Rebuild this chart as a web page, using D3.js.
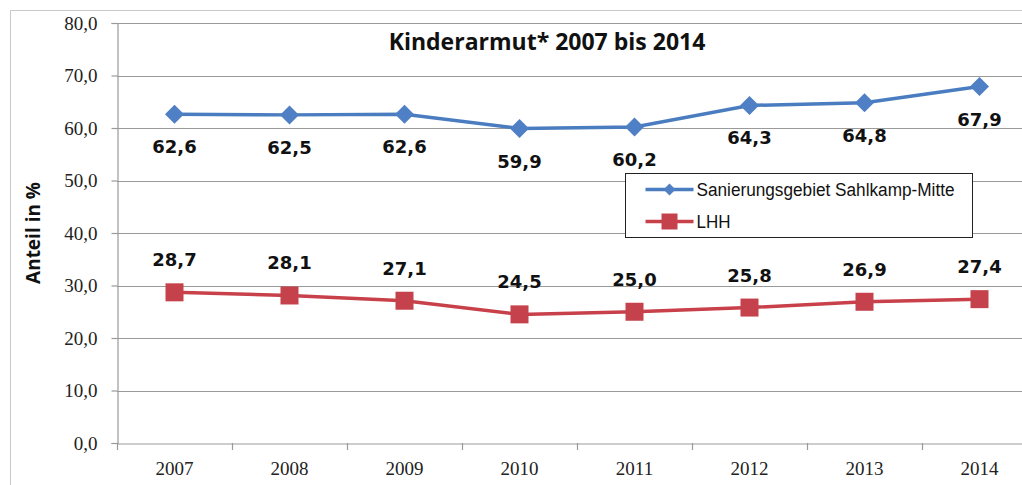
<!DOCTYPE html>
<html>
<head>
<meta charset="utf-8">
<script src="https://cdn.jsdelivr.net/npm/d3@7"></script>
<style>
  body { margin: 0; background: #fff; }
  svg { display: block; }
</style>
</head>
<body>
<script>
// data
const years = ["2007", "2008", "2009", "2010", "2011", "2012", "2013", "2014"];
const sahlkamp = [62.6, 62.5, 62.6, 59.9, 60.2, 64.3, 64.8, 67.9];
const lhh = [28.7, 28.1, 27.1, 24.5, 25.0, 25.8, 26.9, 27.4];
const yTicks = [0, 10, 20, 30, 40, 50, 60, 70, 80];
const seriesNames = ["Sanierungsgebiet Sahlkamp-Mitte", "LHH"];

const width = 1022, height = 485;
const margin = {top: 23, right: -15, bottom: 42, left: 117};

const svg = d3.select("body").append("svg")
    .attr("width", width)
    .attr("height", height);

// outer frame (cropped on the right/bottom in the original)
svg.append("path")
    .attr("d", `M10.5,${height} V10.5 H${width}`)
    .attr("fill", "none")
    .attr("stroke", "#c8c8c8");

const x = d3.scaleBand()
    .domain(years)
    .range([margin.left, width - margin.right]);

const y = d3.scaleLinear()
    .domain([0, 80])
    .range([height - margin.bottom, margin.top]);

const fmt = v => d3.format(".1f")(v).replace(".", ",");

// gridlines
svg.append("g")
  .selectAll("line")
  .data(yTicks.slice(1))
  .join("line")
    .attr("x1", margin.left)
    .attr("x2", width)
    .attr("y1", d => Math.round(y(d)) + 0.5)
    .attr("y2", d => Math.round(y(d)) + 0.5)
    .attr("stroke", "#9a9a9a")
    .attr("stroke-width", 1.2);

// y axis
svg.append("g")
    .attr("transform", `translate(${margin.left + 0.5},0)`)
    .call(d3.axisLeft(y).tickValues(yTicks).tickFormat(fmt).tickSize(6).tickPadding(14))
    .call(g => g.selectAll("path, line").attr("stroke", "#9a9a9a").attr("stroke-width", 1.2))
    .call(g => g.selectAll("text")
        .attr("font-family", "'Liberation Serif', 'DejaVu Serif', serif")
        .attr("font-size", 19)
        .attr("fill", "#222"));

// x axis
svg.append("g")
    .attr("transform", `translate(0,${Math.round(y(0)) + 0.5})`)
    .call(d3.axisBottom(x).tickSize(0).tickPadding(18).tickSizeOuter(0))
    .call(g => g.select(".domain").attr("stroke", "#9a9a9a").attr("stroke-width", 1.2))
    .call(g => g.selectAll("text")
        .attr("font-family", "'Liberation Serif', 'DejaVu Serif', serif")
        .attr("font-size", 19)
        .attr("fill", "#222"));

// category separators on x axis
svg.append("g")
  .selectAll("line")
  .data(years)
  .join("line")
    .attr("x1", d => x(d) + 0.5)
    .attr("x2", d => x(d) + 0.5)
    .attr("y1", y(0))
    .attr("y2", y(0) + 7)
    .attr("stroke", "#9a9a9a")
    .attr("stroke-width", 1.2);

const cx = d => x(d) + x.bandwidth() / 2;
const line = d3.line().x(d => cx(d.year)).y(d => y(d.value));

const blueRows = years.map((year, i) => ({year, value: sahlkamp[i]}));
const redRows = years.map((year, i) => ({year, value: lhh[i]}));

const blue = "#4a7cc0", red = "#c8404a";

// LHH line
svg.append("path")
    .datum(redRows)
    .attr("fill", "none")
    .attr("stroke", red)
    .attr("stroke-width", 3.5)
    .attr("d", line);

svg.append("g")
  .selectAll("rect")
  .data(redRows)
  .join("rect")
    .attr("x", d => cx(d.year) - 9)
    .attr("y", d => y(d.value) - 9)
    .attr("width", 18)
    .attr("height", 18)
    .attr("fill", "#c5424c");

// Sahlkamp line
svg.append("path")
    .datum(blueRows)
    .attr("fill", "none")
    .attr("stroke", blue)
    .attr("stroke-width", 3.5)
    .attr("d", line);

svg.append("g")
  .selectAll("path")
  .data(blueRows)
  .join("path")
    .attr("transform", d => `translate(${cx(d.year)},${y(d.value)})`)
    .attr("d", "M0,-9.5L9.5,0L0,9.5L-9.5,0Z")
    .attr("fill", "#4f7fc4");

// data labels
const labelFont = "'DejaVu Sans', Verdana, sans-serif";
svg.append("g")
  .selectAll("text")
  .data(blueRows)
  .join("text")
    .attr("x", d => cx(d.year))
    .attr("y", d => y(d.value) + 39)
    .attr("text-anchor", "middle")
    .attr("font-family", labelFont)
    .attr("font-weight", "bold")
    .attr("font-size", 18)
    .attr("fill", "#111")
    .text(d => fmt(d.value));

svg.append("g")
  .selectAll("text")
  .data(redRows)
  .join("text")
    .attr("x", d => cx(d.year))
    .attr("y", d => y(d.value) - 26)
    .attr("text-anchor", "middle")
    .attr("font-family", labelFont)
    .attr("font-weight", "bold")
    .attr("font-size", 18)
    .attr("fill", "#111")
    .text(d => fmt(d.value));

// title
svg.append("text")
    .attr("x", 547)
    .attr("y", 50)
    .attr("text-anchor", "middle")
    .attr("font-family", "'Open Sans', 'DejaVu Sans', sans-serif")
    .attr("font-weight", "bold")
    .attr("font-size", 23)
    .attr("fill", "#111")
    .text("Kinderarmut* 2007 bis 2014");

// y axis title
svg.append("text")
    .attr("transform", "translate(40,233) rotate(-90)")
    .attr("text-anchor", "middle")
    .attr("font-family", "'Open Sans', 'DejaVu Sans', sans-serif")
    .attr("font-weight", "bold")
    .attr("font-size", 19)
    .attr("fill", "#111")
    .text("Anteil in %");

// legend
const legend = svg.append("g").attr("transform", "translate(625.5,173.5)");
legend.append("rect")
    .attr("width", 347)
    .attr("height", 64)
    .attr("fill", "#fff")
    .attr("stroke", "#222")
    .attr("stroke-width", 1);

const legendItems = legend.selectAll("g")
  .data(seriesNames)
  .join("g")
    .attr("transform", (d, i) => `translate(20,${16 + i * 32})`);

legendItems.append("line")
    .attr("x1", 0).attr("x2", 48)
    .attr("stroke", (d, i) => i === 0 ? blue : red)
    .attr("stroke-width", 3.5);

legendItems.append("path")
    .attr("transform", "translate(24,0)")
    .attr("d", (d, i) => i === 0 ? "M0,-6L6,0L0,6L-6,0Z" : "M-8,-8H8V8H-8Z")
    .attr("fill", (d, i) => i === 0 ? "#4f7fc4" : "#c5424c");

legendItems.append("text")
    .attr("x", 51)
    .attr("dy", "0.35em")
    .attr("font-family", "'Liberation Sans', Arial, sans-serif")
    .attr("font-size", 18)
    .attr("textLength", (d, i) => i === 0 ? 258 : 34)
    .attr("lengthAdjust", "spacingAndGlyphs")
    .attr("fill", "#111")
    .text(d => d);
</script>
</body>
</html>
